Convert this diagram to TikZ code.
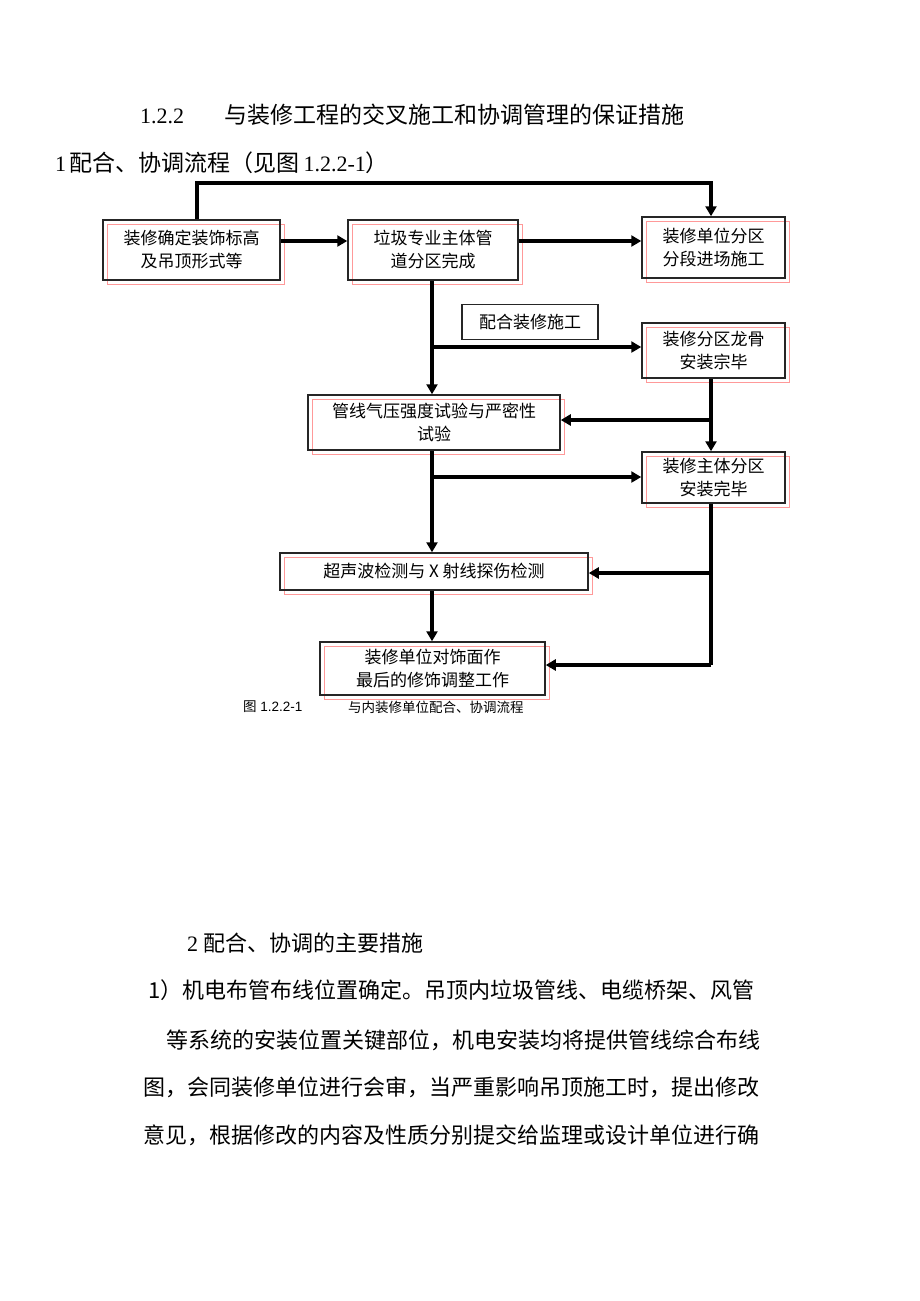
\documentclass[tikz,border=0pt]{standalone}
\usepackage{fontspec}
\setmainfont{Liberation Serif}
\setsansfont{Liberation Sans}
\newfontfamily\cjk{Noto Sans CJK SC}
\usetikzlibrary{arrows.meta}
\tikzset{
  bx/.style={draw=black!85,line width=1.5pt,inner sep=0pt,font=\cjk\fontsize{17}{23}\selectfont,align=center},
  ar/.style={line width=3.4pt,-{Triangle[width=11pt,length=10pt]}},
  ln/.style={line width=3.4pt},
  txt/.style={anchor=west,inner sep=0pt,font=\cjk\fontsize{22}{26}\selectfont}
}
\newcommand{\mybox}[6]{%
  \fill[white] (#2,-#3) rectangle (#4,-#5);
  \draw[pink!80!red,line width=0.8pt] (#2+4,-#3-4) rectangle (#4+4,-#5-4);
  \node[bx,minimum width=#4-#2,minimum height=#5-#3] (#1) at ({(#2+#4)/2},{-(#3+#5)/2}) {#6};}
\begin{document}
\begin{tikzpicture}[x=1pt,y=1pt]
\useasboundingbox (0,0) rectangle (920,-1301);
% headings
\node[anchor=west,inner sep=0pt,font=\fontsize{22}{26}\selectfont] (h1) at (140,-115) {1.2.2\hspace{40pt}{\cjk\fontsize{23}{26}\selectfont 与装修工程的交叉施工和协调管理的保证措施}};
\node[anchor=west,inner sep=0pt,font=\fontsize{22}{26}\selectfont] (h2) at (55,-163) {1\,{\cjk\fontsize{23}{26}\selectfont 配合、协调流程（见图}\,1.2.2-1{\cjk\fontsize{23}{26}\selectfont ）}};
% boxes
\mybox{A}{103}{220}{280}{280}{装修确定装饰标高\\及吊顶形式等}
\mybox{B}{348}{220}{518}{280}{垃圾专业主体管\\道分区完成}
\mybox{C}{642}{217}{785}{278}{装修单位分区\\分段进场施工}
\node[bx,minimum width=136,minimum height=35] (P) at (530,-322) {配合装修施工};
\mybox{D}{642}{323}{785}{378}{装修分区龙骨\\安装宗毕}
\mybox{E}{308}{395}{560}{450}{管线气压强度试验与严密性\\试验}
\mybox{F}{642}{452}{785}{503}{装修主体分区\\安装完毕}
\mybox{G}{280}{553}{588}{590}{超声波检测与 X 射线探伤检测}
\mybox{H}{320}{642}{545}{695}{装修单位对饰面作\\最后的修饰调整工作}
% connectors
\coordinate (ab) at (0,-241);
\draw[ar] (A.east |- ab) -- (B.west |- ab);
\draw[ar] (B.east |- ab) -- (C.west |- ab);
\coordinate (t1) at (197,-183);
\coordinate (t2) at (711,-183);
\draw[ar] (A.north -| t1) -- (t1) -- (t2) -- (C.north -| t2);
\coordinate (b1) at (432,-347);
\draw[ar] (B.south -| b1) -- (E.north -| b1);
\draw[ar] (b1) -- (D.west |- b1);
\coordinate (d1) at (711,-420);
\draw[ar] (D.south -| d1) -- (F.north -| d1);
\draw[ar] (d1) -- (E.east |- d1);
\coordinate (e1) at (432,-477);
\draw[ar] (E.south -| e1) -- (G.north -| e1);
\draw[ar] (e1) -- (F.west |- e1);
\coordinate (f1) at (711,-573);
\coordinate (f2) at (711,-665);
\draw[ln] (F.south -| f1) -- (f2);
\draw[ar] (f1) -- (G.east |- f1);
\draw[ar] (f2) -- (H.east |- f2);
\draw[ar] (G.south -| e1) -- (H.north -| e1);
% caption
\node[anchor=west,inner sep=0pt,font=\fontsize{13.5}{15}\selectfont\sffamily] (cap1) at (243,-707) {{\cjk 图} 1.2.2-1};
\node[anchor=west,inner sep=0pt,font=\cjk\fontsize{13.5}{15}\selectfont] (cap2) at (348,-707) {与内装修单位配合、协调流程};
% body
\node[anchor=west,inner sep=0pt,font=\fontsize{22}{26}\selectfont] (t0) at (187,-943) {2 {\cjk 配合、协调的主要措施}};
\node[txt] (l1) at (148,-990) {1）机电布管布线位置确定。吊顶内垃圾管线、电缆桥架、风管};
\node[txt] (l2) at (166,-1040) {等系统的安装位置关键部位，机电安装均将提供管线综合布线};
\node[txt] (l3) at (143,-1087) {图，会同装修单位进行会审，当严重影响吊顶施工时，提出修改};
\node[txt] (l4) at (143,-1135) {意见，根据修改的内容及性质分别提交给监理或设计单位进行确};
\end{tikzpicture}
\end{document}
